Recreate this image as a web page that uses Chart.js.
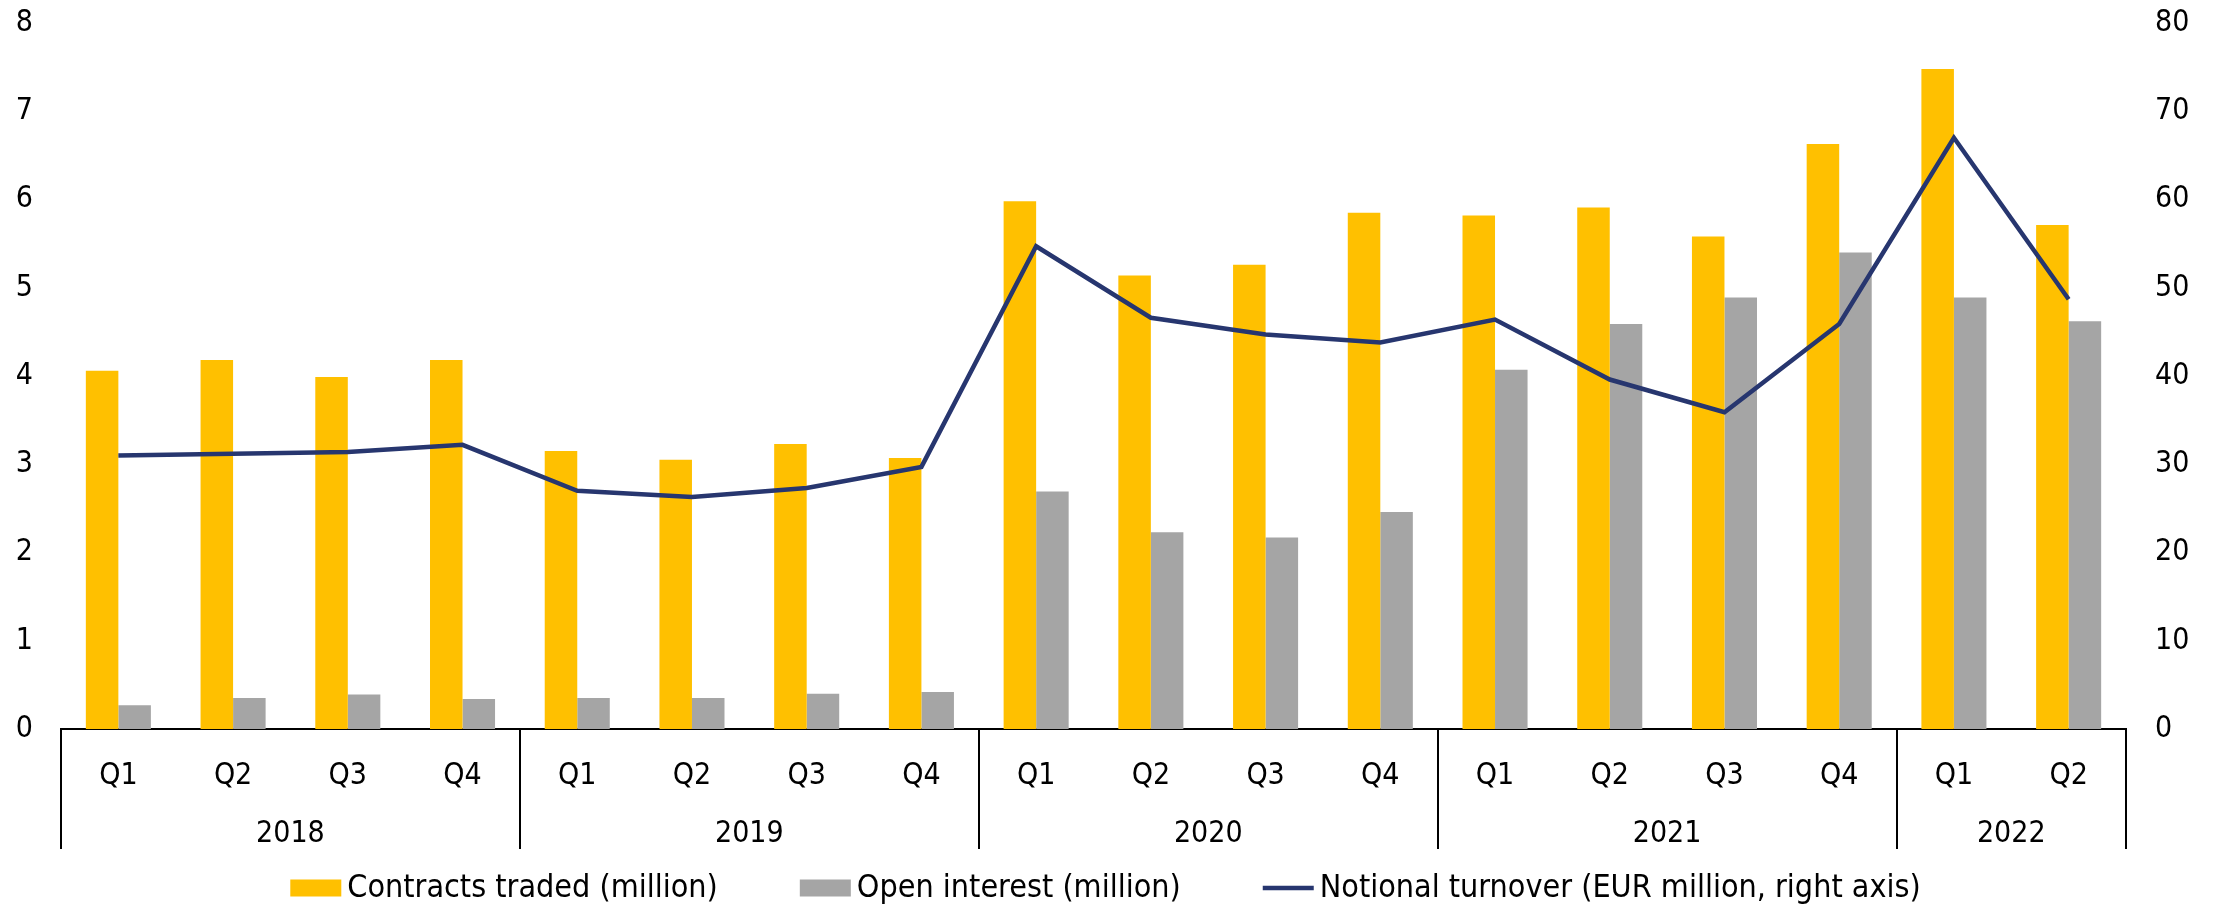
<!DOCTYPE html>
<html lang="en">
<head>
    <meta charset="UTF-8">
    <title>Contracts traded, open interest and notional turnover</title>
    <script src="https://cdn.jsdelivr.net/npm/chart.js"></script>
    <style>
        html, body {
            margin: 0;
            padding: 0;
            background: #fff;
        }
        #chart {
            display: block;
        }
    </style>
</head>
<body>
    <canvas id="chart" width="2221" height="906"></canvas>

    <script>
        // Quarter labels along the axis, and the years they belong to
        const quarters = ['Q1', 'Q2', 'Q3', 'Q4', 'Q1', 'Q2', 'Q3', 'Q4', 'Q1', 'Q2', 'Q3', 'Q4',
                          'Q1', 'Q2', 'Q3', 'Q4', 'Q1', 'Q2'];
        const years = ['2018', '2019', '2020', '2021', '2022'];
        const quartersPerYear = [4, 4, 4, 4, 2];

        // Left axis (million)
        const contractsTraded = [4.06, 4.18, 3.99, 4.18, 3.15, 3.05, 3.23, 3.07, 5.98, 5.14, 5.26, 5.85,
                                 5.82, 5.91, 5.58, 6.63, 7.48, 5.71];
        const openInterest = [0.27, 0.35, 0.39, 0.34, 0.35, 0.35, 0.40, 0.42, 2.69, 2.23, 2.17, 2.46,
                              4.07, 4.59, 4.89, 5.40, 4.89, 4.62];
        // Right axis (EUR million)
        const notionalTurnover = [31.0, 31.2, 31.4, 32.2, 27.0, 26.3, 27.3, 29.7, 54.7, 46.6, 44.7, 43.8,
                                  46.4, 39.6, 35.9, 45.9, 67.0, 48.7];

        const FONT = "'DejaVu Sans Condensed', 'DejaVu Sans', sans-serif";
        const YELLOW = '#FFC000';
        const GREY = '#A5A5A5';
        const NAVY = '#27366F';

        // draws the year row, the separators under the axis and the legend
        const yearRowPlugin = {
            id: 'yearRow',
            afterDraw(chart) {
                const ctx = chart.ctx;
                const x = chart.scales.x;
                const area = chart.chartArea;
                const top = area.bottom;
                const sepBottom = top + 120;

                ctx.save();
                ctx.strokeStyle = '#000';
                ctx.lineWidth = 2;
                ctx.fillStyle = '#000';
                ctx.font = '30px ' + FONT;
                ctx.textAlign = 'center';
                ctx.textBaseline = 'middle';

                let start = 0;
                let left = area.left;
                const bounds = [left];
                years.forEach((year, i) => {
                    const end = start + quartersPerYear[i] - 1;
                    let right;
                    if (end + 1 < quarters.length) {
                        right = (x.getPixelForValue(end) + x.getPixelForValue(end + 1)) / 2;
                    } else {
                        right = area.right;
                    }
                    bounds.push(right);
                    ctx.fillText(year, (left + right) / 2, top + 105);
                    left = right;
                    start = end + 1;
                });

                bounds.forEach(b => {
                    ctx.beginPath();
                    ctx.moveTo(Math.round(b), top);
                    ctx.lineTo(Math.round(b), sepBottom);
                    ctx.stroke();
                });

                // legend
                ctx.font = '32px ' + FONT;
                ctx.textAlign = 'left';
                const swW = 51, swH = 17, gap = 6, itemGap = 82;
                const items = chart.data.datasets.map(ds => ({
                    text: ds.label,
                    color: ds.type === 'line' ? ds.borderColor : ds.backgroundColor,
                    line: ds.type === 'line'
                }));
                const widths = items.map(it => swW + gap + ctx.measureText(it.text).width);
                const total = widths.reduce((a, b) => a + b, 0) + itemGap * (items.length - 1);
                let lx = chart.width / 2 - total / 2 - 5;
                const ly = top + 159;
                items.forEach((it, i) => {
                    if (it.line) {
                        ctx.strokeStyle = it.color;
                        ctx.lineWidth = 4.5;
                        ctx.beginPath();
                        ctx.moveTo(lx, ly);
                        ctx.lineTo(lx + swW, ly);
                        ctx.stroke();
                    } else {
                        ctx.fillStyle = it.color;
                        ctx.fillRect(lx, ly - swH / 2, swW, swH);
                    }
                    ctx.fillStyle = '#000';
                    ctx.fillText(it.text, lx + swW + gap, ly + 1);
                    lx += widths[i] + itemGap;
                });
                ctx.restore();
            }
        };

        const chart = new Chart(document.getElementById('chart').getContext('2d'), {
            type: 'bar',
            data: {
                labels: quarters,
                datasets: [
                    {
                        label: 'Contracts traded (million)',
                        data: contractsTraded,
                        backgroundColor: YELLOW,
                        yAxisID: 'y',
                        order: 2
                    },
                    {
                        label: 'Open interest (million)',
                        data: openInterest,
                        backgroundColor: GREY,
                        yAxisID: 'y',
                        order: 2
                    },
                    {
                        type: 'line',
                        label: 'Notional turnover (EUR million, right axis)',
                        data: notionalTurnover,
                        borderColor: NAVY,
                        backgroundColor: NAVY,
                        borderWidth: 4.5,
                        pointRadius: 0,
                        tension: 0,
                        fill: false,
                        yAxisID: 'y1',
                        order: 0
                    }
                ]
            },
            options: {
                responsive: false,
                animation: false,
                devicePixelRatio: 1,
                categoryPercentage: 0.567,
                barPercentage: 1,
                layout: {
                    padding: { top: 23, left: 16, right: 33, bottom: 0 }
                },
                plugins: {
                    legend: { display: false },
                    tooltip: { enabled: false }
                },
                scales: {
                    x: {
                        grid: { display: false, drawTicks: false },
                        border: { display: true, color: '#000', width: 2 },
                        ticks: {
                            color: '#000',
                            font: { family: FONT, size: 30 },
                            padding: 29,
                            maxRotation: 0,
                            autoSkip: false
                        },
                        afterFit(scale) {
                            // room for the quarter row, the year row and the legend
                            scale.height = 177;
                        }
                    },
                    y: {
                        position: 'left',
                        min: 0,
                        max: 8,
                        grid: { display: false, drawTicks: false },
                        border: { display: false },
                        ticks: {
                            stepSize: 1,
                            color: '#000',
                            font: { family: FONT, size: 30 },
                            padding: 28
                        },
                        afterFit(scale) {
                            scale.width = 45;
                            scale.paddingTop = 0;
                            scale.paddingBottom = 0;
                        }
                    },
                    y1: {
                        position: 'right',
                        min: 0,
                        max: 80,
                        grid: { display: false, drawTicks: false },
                        border: { display: false },
                        ticks: {
                            stepSize: 10,
                            color: '#000',
                            font: { family: FONT, size: 30 },
                            padding: 29
                        },
                        afterFit(scale) {
                            scale.width = 62;
                            scale.paddingTop = 0;
                            scale.paddingBottom = 0;
                        }
                    }
                }
            },
            plugins: [yearRowPlugin]
        });
    </script>
</body>
</html>
